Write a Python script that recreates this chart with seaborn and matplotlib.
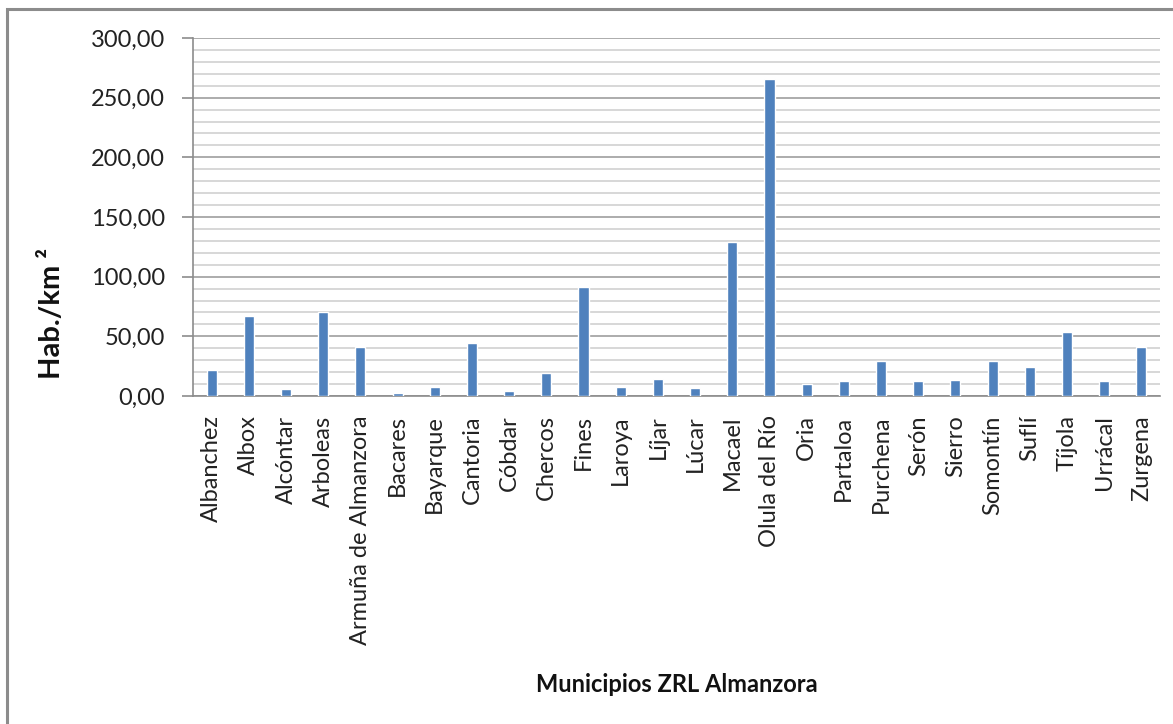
import matplotlib
matplotlib.use("Agg")
import matplotlib.pyplot as plt
import seaborn as sns
import pandas as pd
from matplotlib.ticker import MultipleLocator, FuncFormatter
from matplotlib.patches import Rectangle

municipios = ["Albanchez", "Albox", "Alcóntar", "Arboleas", "Armuña de Almanzora",
              "Bacares", "Bayarque", "Cantoria", "Cóbdar", "Chercos", "Fines",
              "Laroya", "Líjar", "Lúcar", "Macael", "Olula del Río", "Oria",
              "Partaloa", "Purchena", "Serón", "Sierro", "Somontín", "Suflí",
              "Tíjola", "Urrácal", "Zurgena"]
densidad = [21.8, 66.8, 5.6, 70.1, 41.1, 2.2, 7.8, 44.1, 4.5, 19.6, 91.6,
            7.8, 14.2, 6.7, 129.1, 265.7, 10.0, 12.3, 29.3, 12.3, 13.4, 29.3,
            24.0, 53.9, 12.3, 41.3]

df = pd.DataFrame({"Municipio": municipios, "Densidad": densidad})

sns.set_theme(style="white")
plt.rcParams["font.family"] = ["Lato", "DejaVu Sans"]

fig = plt.figure(figsize=(11.73, 7.24), dpi=100)
ax = fig.add_axes([193 / 1173, 1 - 396 / 724, (1160 - 193) / 1173, (396 - 38) / 724])

sns.barplot(data=df, x="Municipio", y="Densidad", color="#4F81BD", width=0.27,
            saturation=1, ax=ax, zorder=3)

ax.set_ylim(0, 300)
ax.set_xlim(-0.5, len(municipios) - 0.5)
ax.yaxis.set_major_locator(MultipleLocator(50))
ax.yaxis.set_minor_locator(MultipleLocator(10))
ax.yaxis.set_major_formatter(FuncFormatter(lambda v, p: f"{v:.2f}".replace(".", ",")))
ax.grid(axis="y", which="major", color="#A6A6A6", linewidth=1.3, zorder=0)
ax.grid(axis="y", which="minor", color="#D4D4D4", linewidth=1.3, zorder=0)
ax.set_axisbelow(True)

for s in ["top", "right"]:
    ax.spines[s].set_visible(False)
for s in ["left", "bottom"]:
    ax.spines[s].set_color("#8C8C8C")
    ax.spines[s].set_linewidth(1.2)

ax.tick_params(axis="y", which="major", length=8, width=1.2, color="#8C8C8C",
               labelsize=17, pad=12, left=True)
ax.tick_params(axis="y", which="minor", length=0)
ax.tick_params(axis="x", length=0, labelsize=17, pad=14)
for lbl in ax.get_xticklabels():
    lbl.set_rotation(90)
for lbl in ax.get_yticklabels() + ax.get_xticklabels():
    lbl.set_color("#222222")

ax.set_xlabel("")
ax.set_ylabel("")
fig.text(677 / 1173, 1 - 685 / 724, "Municipios ZRL Almanzora", ha="center", va="center",
         fontsize=17, fontweight="bold", color="#111111")
fig.text(52 / 1173, 1 - 313 / 724, "Hab./km ²", ha="center", va="center", rotation=90,
         fontsize=21, fontweight="bold", color="#111111")

fig.patches.append(Rectangle((7 / 1173, -0.1), 1.2, (1 - 9 / 724) + 0.1,
                             transform=fig.transFigure, fill=False,
                             edgecolor="#8C8C8C", linewidth=2.2))

fig.savefig("out.png", dpi=100, facecolor="white")
